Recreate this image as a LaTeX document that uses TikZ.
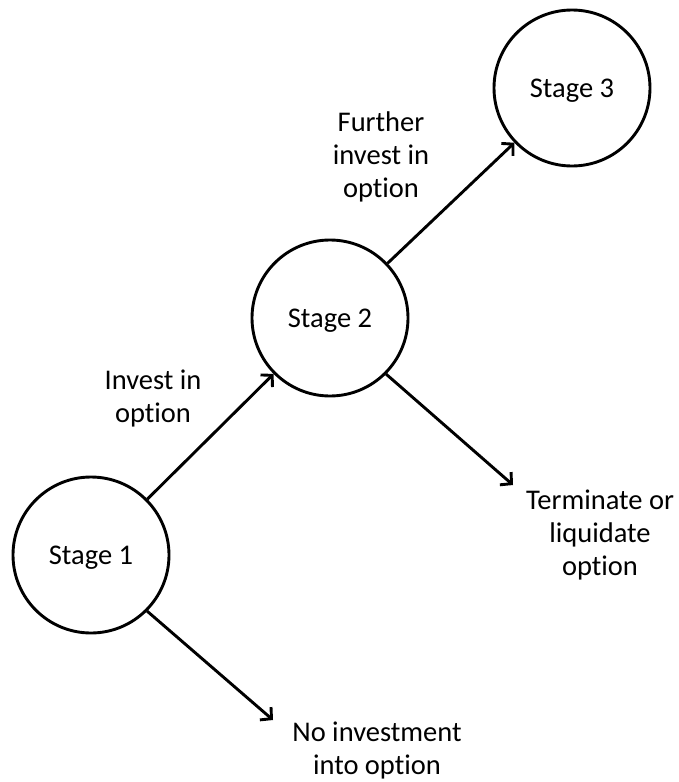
\documentclass[tikz,border=0pt]{standalone}
\usepackage{fontspec}
\setmainfont[Ligatures=NoCommon]{Carlito}
\usetikzlibrary{arrows.meta}
\begin{document}
\begin{tikzpicture}[x=1pt,y=-1pt,
  stage/.style={circle,draw,line width=2.9pt,minimum size=156pt,inner sep=0pt,
    text height=19pt,text depth=0pt,
    font=\fontsize{28.5}{33}\selectfont},
  link/.style={line width=2.9pt,-{Straight Barb[length=8pt,width=17pt]}},
  lbl/.style={align=center,anchor=base,inner sep=0pt,
    font=\fontsize{28.5}{33}\selectfont}]
  \useasboundingbox (0,0) rectangle (678,782);

  % decision stages
  \node[stage] (s1) at (91,555) {Stage 1};
  \node[stage] (s2) at (330,318) {Stage 2};
  \node[stage] (s3) at (572,88) {Stage 3};

  % free ends of the outgoing branches
  \coordinate (noinv) at (273,720);
  \coordinate (term) at (513,485);

  % branches
  \draw[link] (s1) -- (s2);
  \draw[link] (s2) -- (s3);
  \draw[link] (s1.-45) -- (noinv);
  \draw[link] (s2.-45) -- (term);

  % branch labels (anchored at the baseline of their last line)
  \node[lbl] (linv) at (153,422) {Invest in\\option};
  \node[lbl] (lfur) at (381,197) {Further\\invest in\\option};
  \node[lbl] (lterm) at (600,575) {Terminate or\\liquidate\\option};
  \node[lbl] (lno) at (377,774) {No investment\\into option};
\end{tikzpicture}
\end{document}
